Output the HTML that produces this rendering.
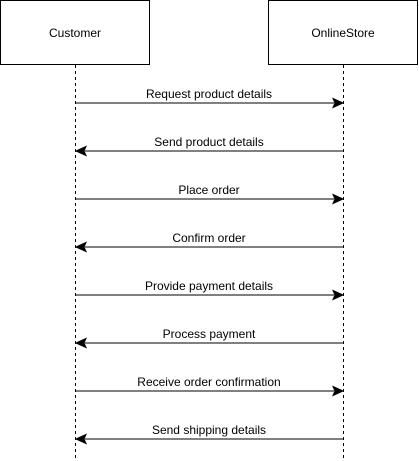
<!DOCTYPE html>
<html><head><meta charset="utf-8"><style>
html,body{margin:0;padding:0;background:#fff;width:419px;height:461px;overflow:hidden}
svg{display:block}
text{font-family:"Liberation Sans",Helvetica,Arial,sans-serif;font-size:12px;fill:#000}
</style></head><body>
<svg width="419" height="461" viewBox="0 0 419 461" xmlns="http://www.w3.org/2000/svg">
<rect x="0.5" y="0.5" width="149" height="64" fill="#fff" stroke="#000"/>
<rect x="268.5" y="0.5" width="149" height="64" fill="#fff" stroke="#000"/>
<text x="75" y="37" text-anchor="middle">Customer</text>
<text x="343" y="37" text-anchor="middle">OnlineStore</text>
<line x1="75.5" y1="65" x2="75.5" y2="461" stroke="#000" stroke-dasharray="3,3"/>
<line x1="343.5" y1="65" x2="343.5" y2="461" stroke="#000" stroke-dasharray="3,3"/>
<g stroke="#000" fill="#000">
<!-- right arrows -->
<line x1="76" y1="103" x2="334" y2="103"/><polygon points="333,98.5 343,103 333,107.5 335,103"/>
<line x1="76" y1="199" x2="334" y2="199"/><polygon points="333,194.5 343,199 333,203.5 335,199"/>
<line x1="76" y1="295" x2="334" y2="295"/><polygon points="333,290.5 343,295 333,299.5 335,295"/>
<line x1="76" y1="391" x2="334" y2="391"/><polygon points="333,386.5 343,391 333,395.5 335,391"/>
<!-- left arrows -->
<line x1="85" y1="151" x2="343" y2="151"/><polygon points="86,146.5 76,151 86,155.5 84,151"/>
<line x1="85" y1="247" x2="343" y2="247"/><polygon points="86,242.5 76,247 86,251.5 84,247"/>
<line x1="85" y1="343" x2="343" y2="343"/><polygon points="86,338.5 76,343 86,347.5 84,343"/>
<line x1="85" y1="439" x2="343" y2="439"/><polygon points="86,434.5 76,439 86,443.5 84,439"/>
</g>
<g text-anchor="middle">
<text x="209" y="98">Request product details</text>
<text x="209" y="146">Send product details</text>
<text x="209" y="194">Place order</text>
<text x="209" y="242">Confirm order</text>
<text x="209" y="290">Provide payment details</text>
<text x="209" y="338">Process payment</text>
<text x="209" y="386">Receive order confirmation</text>
<text x="209" y="434">Send shipping details</text>
</g>
</svg>
</body></html>
